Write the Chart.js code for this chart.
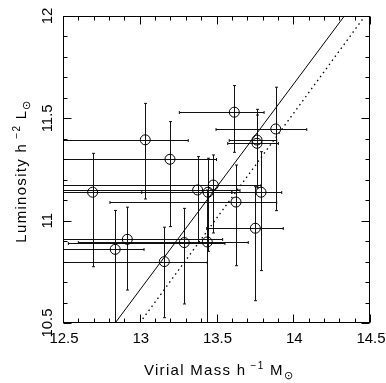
<!DOCTYPE html>
<html>
<head>
<meta charset="utf-8">
<script src="https://cdn.jsdelivr.net/npm/chart.js@4.4.0/dist/chart.umd.min.js"></script>
<style>
  html, body { margin: 0; padding: 0; background: #fff; }
  canvas { display: block; }
</style>
</head>
<body>
<canvas id="c" width="386" height="383"></canvas>
<script>
// log virial mass (x) and log luminosity (y) of the groups, with error bar ends
const massX = [13.036, 13.197, 12.693, 13.627, 13.377, 13.445, 13.479, 13.440, 13.790, 13.753,
               13.764, 13.764, 13.886, 13.616, 12.919, 13.290, 12.840, 13.160];
const lumY  = [11.395, 11.300, 11.139, 11.091, 11.150, 11.139, 11.174, 10.896, 11.139, 10.963,
               11.394, 11.378, 11.448, 11.530, 10.909, 10.893, 10.860, 10.800];
const massLo = [12.35, 12.40, 12.37, 12.806, 12.30, 12.30, 12.30, 12.60, 13.60, 13.436,
                13.583, 13.573, 13.497, 13.258, 12.30, 12.535, 12.30, 12.35];
const massHi = [13.316, 13.50, 13.013, 13.892, 13.653, 13.60, 13.79, 13.707, 13.925, 13.935,
                13.892, 13.903, 14.088, 13.81, 13.54, 13.555, 13.028, 13.44];
const lumLo = [11.106, 10.971, 10.775, 10.780, 10.890, 10.850, 10.940, 10.45, 10.756, 10.609,
               11.16, 11.17, 11.049, 11.334, 10.661, 10.593, 10.45, 10.526];
const lumHi = [11.573, 11.484, 11.329, 11.272, 11.313, 11.305, 11.321, 11.15, 11.337, 11.166,
               11.544, 11.516, 11.652, 11.66, 11.066, 11.060, 11.050, 10.968];

// reference relations
const fitX = [12.84, 14.333];
const fitY = [10.5, 12.0];
const dotX = [13.0, 14.467];
const dotY = [10.5, 12.0];

const xTicks = [12.5, 13, 13.5, 14, 14.5];
const yTicks = [10.5, 11, 11.5, 12];

const FONT = "'Liberation Sans', Arial, sans-serif";

function richText(ctx, parts, x, y, align) {
    // parts: [text, size, dy]
    ctx.letterSpacing = '1.3px';
    let w = 0;
    parts.forEach(p => { ctx.font = p[1] + 'px ' + FONT; w += ctx.measureText(p[0]).width; });
    let cx = align === 'center' ? x - w / 2 : x;
    ctx.textAlign = 'left';
    ctx.textBaseline = 'alphabetic';
    parts.forEach(p => {
        ctx.font = p[1] + 'px ' + FONT;
        ctx.fillText(p[0], cx, y + p[2]);
        cx += ctx.measureText(p[0]).width;
    });
    ctx.letterSpacing = '0px';
}

const errorBars = {
    id: 'errorBars',
    beforeDatasetsDraw(chart) {
        const {ctx, chartArea: a, scales: {x, y}} = chart;
        ctx.save();
        ctx.beginPath();
        ctx.rect(a.left, a.top, a.right - a.left, a.bottom - a.top);
        ctx.clip();
        ctx.strokeStyle = '#111';
        ctx.lineWidth = 1;
        const cap = 1.5;
        for (let i = 0; i < massX.length; i++) {
            const px = Math.round(x.getPixelForValue(massX[i])) + 0.5;
            const py = Math.round(y.getPixelForValue(lumY[i])) + 0.5;
            const x0 = x.getPixelForValue(massLo[i]), x1 = x.getPixelForValue(massHi[i]);
            const y0 = y.getPixelForValue(lumLo[i]), y1 = y.getPixelForValue(lumHi[i]);
            ctx.beginPath();
            ctx.moveTo(x0, py); ctx.lineTo(x1, py);
            ctx.moveTo(x0, py - cap); ctx.lineTo(x0, py + cap);
            ctx.moveTo(x1, py - cap); ctx.lineTo(x1, py + cap);
            ctx.moveTo(px, y0); ctx.lineTo(px, y1);
            ctx.moveTo(px - cap, y0); ctx.lineTo(px + cap, y0);
            ctx.moveTo(px - cap, y1); ctx.lineTo(px + cap, y1);
            ctx.stroke();
        }
        ctx.restore();
    }
};

const frame = {
    id: 'frame',
    afterDraw(chart) {
        const {ctx, chartArea: a, scales: {x, y}} = chart;
        ctx.save();
        ctx.strokeStyle = '#000';
        ctx.lineWidth = 1;
        const L = a.left + 0.5, R = a.right - 0.5, T = a.top + 0.5, B = a.bottom - 0.5;
        ctx.strokeRect(L, T, R - L, B - T);
        ctx.beginPath();
        for (let v = 125; v <= 145; v++) {
            const px = Math.round(x.getPixelForValue(v / 10)) + 0.5;
            const len = v % 5 === 0 ? 8 : 4;
            ctx.moveTo(px, B); ctx.lineTo(px, B - len);
            ctx.moveTo(px, T); ctx.lineTo(px, T + len);
        }
        for (let v = 105; v <= 120; v++) {
            const py = Math.round(y.getPixelForValue(v / 10)) + 0.5;
            const len = v % 5 === 0 ? 8 : 4;
            ctx.moveTo(L, py); ctx.lineTo(L + len, py);
            ctx.moveTo(R, py); ctx.lineTo(R - len, py);
        }
        ctx.stroke();

        ctx.fillStyle = '#000';
        ctx.font = '15px ' + FONT;
        ctx.textAlign = 'center';
        ctx.textBaseline = 'alphabetic';
        xTicks.forEach(v => ctx.fillText(String(v), x.getPixelForValue(v) + 1, 343));
        yTicks.forEach(v => {
            ctx.save();
            ctx.translate(52, y.getPixelForValue(v));
            ctx.rotate(-Math.PI / 2);
            ctx.font = '15px ' + FONT;
            ctx.textAlign = 'center';
            ctx.fillText(String(v), 0, 0);
            ctx.restore();
        });

        richText(ctx, [['Virial Mass h', 15, 0], [' \u22121', 10, -6], [' M', 15, 0], ['\u2299', 11, 4]],
                 219, 375, 'center');
        ctx.save();
        ctx.translate(26, 171);
        ctx.rotate(-Math.PI / 2);
        richText(ctx, [['Luminosity h', 15, 0], [' \u22122', 10, -6], [' L', 15, 0], ['\u2299', 11, 4]],
                 0, 0, 'center');
        ctx.restore();
        ctx.restore();
    }
};

const ctx = document.getElementById('c').getContext('2d');
new Chart(ctx, {
    type: 'scatter',
    data: {
        datasets: [
            {
                data: massX.map((m, i) => ({x: m, y: lumY[i]})),
                pointStyle: 'circle',
                pointRadius: 5,
                borderColor: '#000',
                backgroundColor: 'rgba(0,0,0,0)',
                borderWidth: 1
            },
            {
                data: fitX.map((m, i) => ({x: m, y: fitY[i]})),
                showLine: true,
                pointRadius: 0,
                borderColor: '#000',
                borderWidth: 1
            },
            {
                data: dotX.map((m, i) => ({x: m, y: dotY[i]})),
                showLine: true,
                pointRadius: 0,
                borderColor: '#000',
                borderWidth: 1.3,
                borderDash: [1.5, 3.5]
            }
        ]
    },
    options: {
        responsive: false,
        animation: false,
        layout: {padding: {left: 63, top: 16, right: 16, bottom: 60}},
        scales: {
            x: {type: 'linear', min: 12.5, max: 14.5, display: false},
            y: {type: 'linear', min: 10.5, max: 12, display: false}
        },
        plugins: {
            legend: {display: false},
            tooltip: {enabled: false}
        }
    },
    plugins: [errorBars, frame]
});
</script>
</body>
</html>
